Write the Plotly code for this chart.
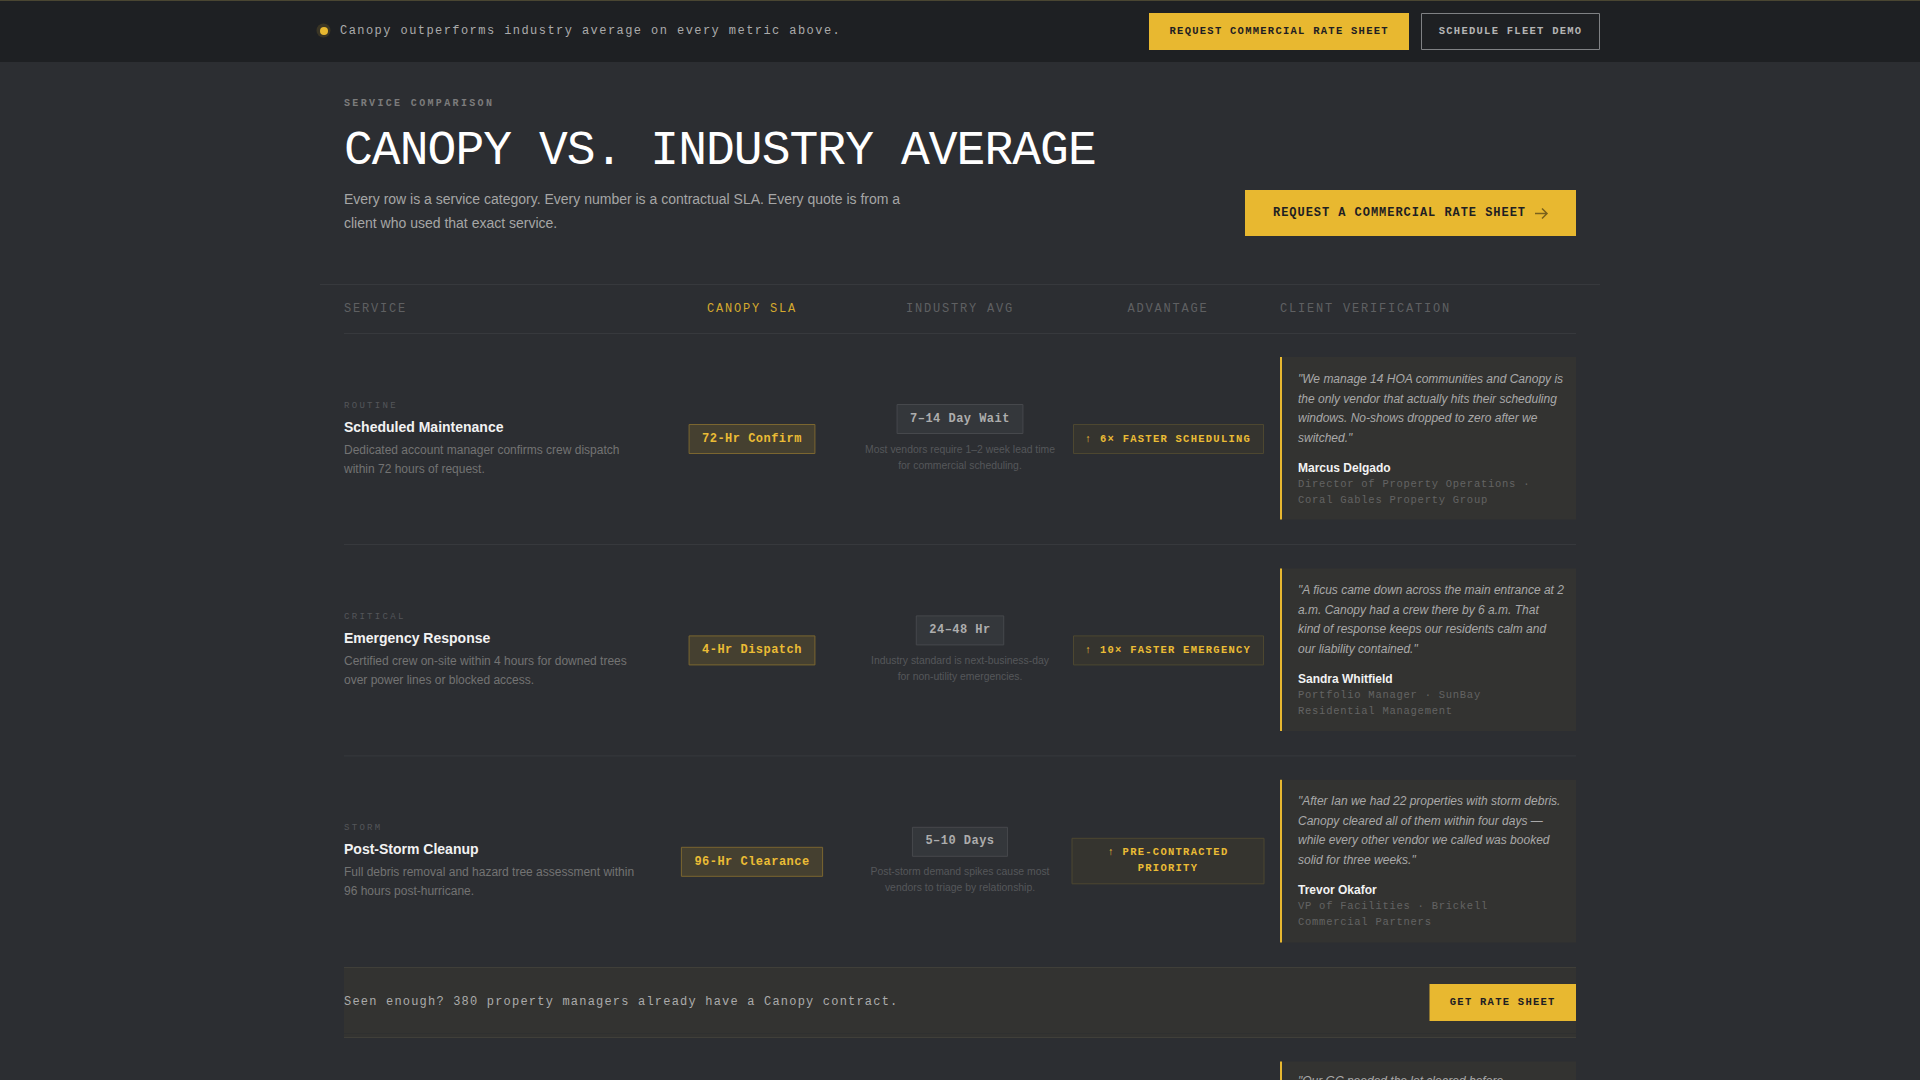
import json
import plotly.graph_objects as go

MONO = "Liberation Mono"
SANS = "Liberation Sans"

# colours
PAGE_BG = "#2c2e32"
BAR_BG = "#1e2023"
YELLOW = "#e8b830"
BADGE_TEXT = "#ebbc35"
INK = "#1e2023"
LINE = "#37393d"
PANEL = "#333331"

# table content
BAR_TEXT = "Canopy outperforms industry average on every metric above."
BAR_BUTTONS = ["REQUEST COMMERCIAL RATE SHEET", "SCHEDULE FLEET DEMO"]
EYEBROW = "SERVICE COMPARISON"
TITLE = "CANOPY VS. INDUSTRY AVERAGE"
INTRO = [
    "Every row is a service category. Every number is a contractual SLA. Every quote is from a",
    "client who used that exact service.",
]
HERO_BUTTON = "REQUEST A COMMERCIAL RATE SHEET"
HEADERS = ["SERVICE", "CANOPY SLA", "INDUSTRY AVG", "ADVANTAGE", "CLIENT VERIFICATION"]

TAGS = ["ROUTINE", "CRITICAL", "STORM"]
SERVICES = ["Scheduled Maintenance", "Emergency Response", "Post-Storm Cleanup"]
DESCRIPTIONS = [
    ["Dedicated account manager confirms crew dispatch", "within 72 hours of request."],
    ["Certified crew on-site within 4 hours for downed trees", "over power lines or blocked access."],
    ["Full debris removal and hazard tree assessment within", "96 hours post-hurricane."],
]
CANOPY_SLA = ["72-Hr Confirm", "4-Hr Dispatch", "96-Hr Clearance"]
INDUSTRY_AVG = ["7–14 Day Wait", "24–48 Hr", "5–10 Days"]
INDUSTRY_NOTES = [
    ["Most vendors require 1–2 week lead time", "for commercial scheduling."],
    ["Industry standard is next-business-day", "for non-utility emergencies."],
    ["Post-storm demand spikes cause most", "vendors to triage by relationship."],
]
ADVANTAGES = [
    ["↑ 6× FASTER SCHEDULING"],
    ["↑ 10× FASTER EMERGENCY"],
    ["↑ PRE-CONTRACTED", "PRIORITY"],
]
QUOTES = [
    ['"We manage 14 HOA communities and Canopy is', "the only vendor that actually hits their scheduling",
     "windows. No-shows dropped to zero after we", 'switched."'],
    ['"A ficus came down across the main entrance at 2', "a.m. Canopy had a crew there by 6 a.m. That",
     "kind of response keeps our residents calm and", 'our liability contained."'],
    ['"After Ian we had 22 properties with storm debris.', "Canopy cleared all of them within four days —",
     "while every other vendor we called was booked", 'solid for three weeks."'],
]
NAMES = ["Marcus Delgado", "Sandra Whitfield", "Trevor Okafor"]
ROLES = [
    ["Director of Property Operations ·", "Coral Gables Property Group"],
    ["Portfolio Manager · SunBay", "Residential Management"],
    ["VP of Facilities · Brickell", "Commercial Partners"],
]
CTA_TEXT = "Seen enough? 380 property managers already have a Canopy contract."
CTA_BUTTON = "GET RATE SHEET"
CUT_OFF_QUOTE = '"Our GC needed the lot cleared before'

fig = go.Figure()
shapes = []
spacings = []


def add_text(x, y, text, size, color, family=MONO, bold=False, italic=False, spacing=0, anchor="left"):
    pos = {"left": "middle right", "center": "middle center", "below": "bottom right"}[anchor]
    fig.add_trace(go.Scatter(
        x=[x], y=[y], text=[text], mode="text", textposition=pos, hoverinfo="skip",
        textfont=dict(family=family, size=size, color=color,
                      weight=700 if bold else 400, style="italic" if italic else "normal"),
    ))
    spacings.append(spacing)


def add_box(x0, y0, x1, y1, fill=None, line=None, width=1):
    shapes.append(dict(type="rect", x0=x0, y0=y0, x1=x1, y1=y1, layer="below",
                       fillcolor=fill or "rgba(0,0,0,0)",
                       line=dict(color=line or "rgba(0,0,0,0)", width=width if line else 0)))


def add_rule(x0, x1, y, color=LINE):
    shapes.append(dict(type="line", x0=x0, x1=x1, y0=y, y1=y, layer="below", line=dict(color=color, width=1)))


# top bar
add_box(0, 0, 1920, 62, fill=BAR_BG)
add_rule(0, 1920, 0.5, color="#4a4632")
shapes.append(dict(type="circle", x0=316.5, x1=330.5, y0=23.5, y1=37.5, layer="below",
                   fillcolor="rgba(232,184,48,0.14)", line=dict(width=0)))
shapes.append(dict(type="circle", x0=320, x1=328, y0=27, y1=35, layer="below",
                   fillcolor=YELLOW, line=dict(width=0)))
add_text(340, 31, BAR_TEXT, 12, "#ababab", spacing=1.44)
add_box(1149, 13, 1409, 50, fill=YELLOW)
add_text(1279.2, 31.5, BAR_BUTTONS[0], 10.5, INK, bold=True, spacing=1.26, anchor="center")
add_box(1421.5, 13.5, 1599.5, 49.5, line="#7f8184")
add_text(1510.6, 31.5, BAR_BUTTONS[1], 10.5, "#b4b4b4", bold=True, spacing=1.26, anchor="center")

# page heading
add_text(344, 103, EYEBROW, 10, "#7c7c7c", bold=True, spacing=2.35)
add_text(344, 151.5, TITLE, 48, "#ffffff", spacing=-0.96)
for i, line in enumerate(INTRO):
    add_text(344, 200 + 24 * i, line, 14, "#a6a6a6", family=SANS)
add_box(1245, 190, 1576, 236, fill=YELLOW)
add_text(1273, 213, HERO_BUTTON, 12, INK, bold=True, spacing=0.96)
shapes.append(dict(type="path", path="M 1535 213.5 L 1547 213.5 M 1542 208.5 L 1547 213.5 L 1542 218.5",
                   layer="above", line=dict(color="#7a611c", width=1.5)))

# header row
add_rule(320, 1600, 284.5)
add_rule(344, 1576, 333.5)
HEADER_X = [344, 752, 960, 1168, 1280]
for i, label in enumerate(HEADERS):
    add_text(HEADER_X[i], 309, label, 12, "#d4a92e" if i == 1 else "#5f6062", spacing=1.8,
             anchor="left" if i in (0, 4) else "center")

# service rows
CHAR_W = 7.68
for r in range(len(SERVICES)):
    q = 357 + 211.4 * r
    t = 357 + 211.1 * r  # text lines snap a little tighter than the boxes
    add_text(344, t + 49, TAGS[r], 9, "#54565a", spacing=2.3)
    add_text(344, t + 71, SERVICES[r], 14, "#f2f2f2", family=SANS, bold=True)
    for i, line in enumerate(DESCRIPTIONS[r]):
        add_text(344, q + 93.5 + 19 * i, line, 12, "#737373", family=SANS)

    half = (len(CANOPY_SLA[r]) * CHAR_W + 26) / 2
    add_box(752 - half, q + 67.5, 752 + half, q + 96.5, fill="#454030", line="#7b6630")
    add_text(752, q + 82, CANOPY_SLA[r], 12, BADGE_TEXT, bold=True, spacing=0.48, anchor="center")

    half = (len(INDUSTRY_AVG[r]) * CHAR_W + 26) / 2
    add_box(960 - half, q + 47.5, 960 + half, q + 76.5, fill="#34373b", line="#46484c")
    add_text(960, t + 62, INDUSTRY_AVG[r], 12, "#adadad", bold=True, spacing=0.48, anchor="center")
    for i, line in enumerate(INDUSTRY_NOTES[r]):
        add_text(960, q + 93 + 16 * i, line, 10.4, "#55575a", family=SANS, anchor="center")

    lines = ADVANTAGES[r]
    if len(lines) == 1:
        add_box(1073.5, q + 67.5, 1263.5, q + 96.5, fill="#35342f", line="#4d4730")
    else:
        add_box(1072, q + 58.5, 1264, q + 104, fill="#35342f", line="#4d4730")
    for i, line in enumerate(lines):
        add_text(1168, t + 82.5 - 9 * (len(lines) - 1) + 16 * i, line, 10.5, BADGE_TEXT, bold=True,
                 spacing=1.26, anchor="center")

    add_box(1280, q, 1576, q + 162.6, fill=PANEL)
    add_box(1280, q, 1282, q + 162.6, fill=YELLOW)
    for i, line in enumerate(QUOTES[r]):
        add_text(1298, t + 22.8 + 19.7 * i, line, 12, "#a9a9a9", family=SANS, italic=True)
    add_text(1298, t + 111.8, NAMES[r], 12, "#f2f2f2", family=SANS, bold=True)
    for i, line in enumerate(ROLES[r]):
        add_text(1298, t + 127.3 + 16 * i, line, 10.5, "#636363", spacing=0.735)
    if r < 2:
        add_rule(344, 1576, q + 187.5)

# call to action strip
add_box(344, 967.5, 1576, 1038, fill=PANEL)
add_rule(344, 1576, 967.5, color="#403f39")
add_rule(344, 1576, 1033.5, color="#2f3030")
add_rule(344, 1576, 1037.5, color="#403f39")
add_text(344, 1002, CTA_TEXT, 12, "#ababab", spacing=1.2)
add_box(1429.5, 984, 1576, 1021, fill=YELLOW)
add_text(1502.7, 1002, CTA_BUTTON, 10.5, INK, bold=True, spacing=1.26, anchor="center")

# next row, cut off by the window
add_box(1280, 1061.5, 1576, 1080, fill=PANEL)
add_box(1280, 1061.5, 1282, 1080, fill=YELLOW)
add_text(1298, 1076, CUT_OFF_QUOTE, 12, "#a9a9a9", family=SANS, italic=True, anchor="below")

fig.update_layout(
    width=1920, height=1080, margin=dict(l=0, r=0, t=0, b=0, pad=0),
    paper_bgcolor=PAGE_BG, plot_bgcolor=PAGE_BG, showlegend=False, shapes=shapes,
    xaxis=dict(range=[0, 1920], visible=False, fixedrange=True),
    yaxis=dict(range=[1080, 0], visible=False, fixedrange=True),
)

# plotly has no letter-spacing option, so set it on the drawn text
post_script = """
document.documentElement.style.overflow = 'hidden';
document.body.style.margin = '0';
document.body.style.background = '%s';
var spacings = %s;
document.querySelectorAll('.scatterlayer .trace').forEach(function (t, i) {
    t.querySelectorAll('text').forEach(function (n) { n.style.letterSpacing = spacings[i] + 'px'; });
});
""" % (PAGE_BG, json.dumps(spacings))

fig.write_html("out.html", config={"displayModeBar": False}, post_script=post_script)
